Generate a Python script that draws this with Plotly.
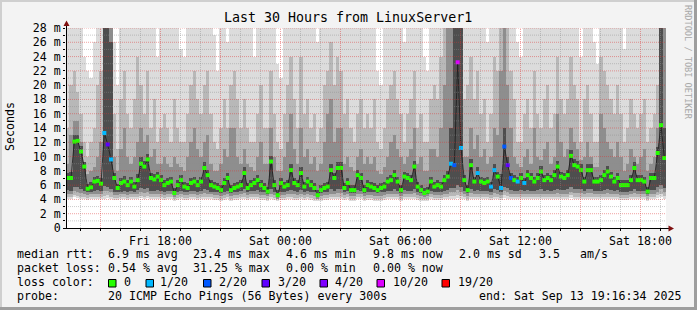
import plotly.graph_objects as go
from datetime import datetime, timedelta

# ---------------- data ----------------
START = datetime(2025, 9, 12, 13, 16, 34)
END = datetime(2025, 9, 13, 19, 16, 34)
STEP_MIN = 10  # one value per 10 minutes

MEDIAN = [
    7.0, 7.0, 12.1, 12.2, 10.7, 8.6, 5.5, 5.7, 6.5, 6.6,
    6.2, 13.3, 11.7, 9.6, 7.0, 5.6, 6.3, 6.5, 6.0, 6.5,
    5.8, 6.7, 9.0, 8.6, 9.6, 7.0, 6.8, 7.2, 6.7, 6.0,
    6.3, 6.5, 4.9, 6.0, 6.7, 5.8, 5.6, 6.3, 6.5, 6.0,
    6.5, 8.4, 7.4, 6.0, 5.8, 5.6, 5.3, 6.3, 7.0, 5.3,
    5.6, 5.8, 6.0, 7.7, 5.6, 6.0, 6.3, 6.7, 6.0, 5.6,
    5.1, 9.3, 6.0, 4.6, 6.3, 5.8, 6.0, 8.1, 6.3, 6.0,
    7.7, 5.8, 6.5, 6.0, 5.6, 4.6, 5.3, 5.6, 5.8, 8.1,
    7.0, 8.4, 8.4, 5.6, 6.3, 5.3, 5.3, 7.4, 7.0, 5.3,
    6.0, 5.8, 5.6, 5.3, 5.6, 5.8, 6.5, 6.7, 7.4, 6.5,
    5.3, 7.2, 7.0, 6.7, 8.6, 5.8, 5.3, 4.9, 5.1, 6.5,
    5.8, 6.0, 5.8, 6.7, 7.2, 9.0, 8.8, 23.2, 11.2, 6.7,
    5.3, 8.8, 6.5, 7.7, 6.5, 6.3, 6.5, 5.8, 8.1, 7.2,
    5.6, 11.4, 8.8, 7.0, 6.7, 6.5, 7.0, 6.3, 7.4, 7.0,
    6.5, 7.0, 7.9, 6.7, 7.0, 6.7, 7.4, 8.6, 7.2, 7.0,
    7.4, 10.1, 8.8, 8.6, 8.1, 6.5, 8.1, 8.1, 6.5, 6.5,
    6.7, 7.4, 7.9, 7.2, 6.5, 7.0, 6.0, 6.0, 6.0, 6.7,
    8.4, 6.7, 6.7, 6.5, 5.1, 7.0, 7.0, 10.5, 14.4, 9.8,
]

# lost pings (out of 20) for each median value
LOSS = [
    0, 0, 0, 0, 0, 0, 0, 0, 0, 0,
    0, 1, 3, 1, 0, 0, 0, 0, 0, 0,
    0, 0, 0, 0, 0, 0, 0, 0, 0, 0,
    0, 0, 0, 0, 0, 0, 0, 0, 0, 0,
    0, 0, 0, 0, 0, 0, 0, 0, 0, 0,
    0, 0, 0, 0, 0, 0, 0, 0, 0, 0,
    0, 0, 0, 0, 0, 0, 0, 0, 0, 0,
    0, 0, 0, 0, 0, 0, 0, 0, 0, 0,
    0, 0, 0, 0, 0, 0, 0, 0, 0, 0,
    0, 0, 0, 0, 0, 0, 0, 0, 0, 0,
    0, 0, 0, 0, 0, 0, 0, 0, 0, 0,
    0, 0, 0, 0, 0, 1, 2, 10, 1, 0,
    0, 0, 0, 1, 0, 0, 0, 1, 1, 0,
    1, 2, 3, 2, 0, 1, 0, 1, 0, 0,
    0, 0, 0, 0, 0, 0, 0, 0, 0, 0,
    0, 0, 0, 0, 0, 0, 0, 0, 0, 0,
    0, 0, 0, 0, 0, 0, 0, 0, 0, 0,
    0, 0, 0, 0, 0, 0, 0, 0, 0, 0,
]

# smoke: sorted-ping band edges (outer pair -> inner pair), in ms
SMOKE_LO1 = [
    4.1, 4.0, 4.3, 4.2, 4.1, 4.0, 3.9, 4.0, 4.0, 4.1,
    4.0, 4.1, 4.2, 4.0, 3.9, 3.9, 4.0, 4.0, 3.9, 4.0,
    4.0, 4.1, 4.2, 4.1, 4.2, 4.0, 4.0, 4.1, 4.0, 3.9,
    4.0, 4.0, 3.8, 3.9, 4.0, 3.9, 3.9, 4.0, 4.0, 3.9,
    4.0, 4.1, 4.1, 4.0, 3.9, 3.9, 3.8, 3.9, 4.0, 3.8,
    3.9, 3.9, 4.0, 4.1, 3.9, 4.0, 4.0, 4.0, 3.9, 3.9,
    3.8, 4.0, 3.9, 3.8, 3.9, 3.9, 4.0, 4.0, 3.9, 3.9,
    4.0, 3.9, 4.0, 3.9, 3.8, 3.8, 3.8, 3.9, 3.9, 4.0,
    4.0, 4.1, 4.1, 3.9, 4.0, 3.8, 3.8, 4.0, 4.0, 3.8,
    3.9, 3.9, 3.8, 3.8, 3.8, 3.9, 4.0, 4.0, 4.1, 4.0,
    3.8, 4.0, 4.0, 4.0, 4.1, 3.9, 3.8, 3.8, 3.8, 4.0,
    3.9, 3.9, 3.9, 4.0, 4.0, 4.1, 4.1, 4.2, 4.1, 4.0,
    3.8, 4.1, 4.0, 4.0, 4.0, 4.0, 4.0, 3.9, 4.1, 4.0,
    3.9, 4.2, 4.1, 4.0, 4.0, 4.0, 4.0, 4.0, 4.0, 4.0,
    4.0, 4.0, 4.1, 4.0, 4.0, 4.0, 4.0, 4.1, 4.0, 4.0,
    4.0, 4.2, 4.1, 4.1, 4.1, 4.0, 4.1, 4.1, 4.0, 4.0,
    4.0, 4.0, 4.1, 4.0, 4.0, 4.0, 3.9, 3.9, 3.9, 4.0,
    4.1, 4.0, 4.0, 4.0, 3.8, 4.0, 4.0, 4.2, 4.3, 4.1,
]
SMOKE_HI1 = [
    30, 30, 30, 30, 30, 24, 22, 21, 26, 30,
    30, 30, 30, 30, 26, 20, 30, 30, 30, 28,
    30, 30, 30, 30, 30, 30, 30, 24, 30, 30,
    30, 30, 30, 30, 25, 24, 30, 30, 30, 30,
    30, 30, 30, 30, 27, 22, 30, 30, 26, 30,
    30, 30, 30, 30, 30, 30, 24, 30, 30, 30,
    30, 30, 30, 23, 21, 30, 30, 30, 30, 30,
    30, 30, 30, 30, 30, 26, 30, 30, 30, 30,
    30, 30, 30, 30, 30, 30, 30, 28, 30, 30,
    30, 30, 30, 22, 20, 30, 30, 30, 30, 30,
    30, 26, 30, 30, 30, 30, 30, 24, 22, 30,
    30, 30, 30, 30, 30, 30, 30, 30, 30, 30,
    30, 30, 30, 30, 30, 30, 26, 30, 30, 30,
    30, 30, 30, 30, 30, 26, 24, 30, 30, 30,
    30, 30, 30, 30, 30, 28, 30, 30, 30, 30,
    30, 30, 30, 30, 24, 30, 30, 30, 26, 23,
    30, 30, 30, 30, 30, 30, 30, 25, 30, 30,
    30, 30, 30, 30, 30, 30, 30, 30, 30, 30,
]
SMOKE_LO2 = [
    4.4, 4.3, 4.6, 4.5, 4.4, 4.3, 4.2, 4.3, 4.3, 4.4,
    4.3, 4.5, 4.6, 4.4, 4.2, 4.2, 4.3, 4.3, 4.2, 4.3,
    4.3, 4.4, 4.5, 4.4, 4.5, 4.3, 4.3, 4.4, 4.3, 4.2,
    4.3, 4.3, 4.1, 4.2, 4.3, 4.2, 4.2, 4.3, 4.3, 4.2,
    4.3, 4.4, 4.4, 4.3, 4.2, 4.2, 4.1, 4.2, 4.3, 4.1,
    4.2, 4.2, 4.3, 4.4, 4.2, 4.3, 4.3, 4.3, 4.2, 4.2,
    4.1, 4.3, 4.2, 4.0, 4.2, 4.2, 4.3, 4.3, 4.2, 4.2,
    4.3, 4.2, 4.3, 4.2, 4.1, 4.0, 4.1, 4.2, 4.2, 4.3,
    4.3, 4.4, 4.4, 4.2, 4.3, 4.1, 4.1, 4.3, 4.3, 4.1,
    4.2, 4.2, 4.1, 4.1, 4.1, 4.2, 4.3, 4.3, 4.4, 4.3,
    4.1, 4.3, 4.3, 4.3, 4.4, 4.2, 4.1, 4.1, 4.1, 4.3,
    4.2, 4.2, 4.2, 4.3, 4.4, 4.5, 4.5, 4.6, 4.5, 4.3,
    4.1, 4.4, 4.3, 4.3, 4.3, 4.3, 4.3, 4.2, 4.4, 4.3,
    4.2, 4.6, 4.5, 4.3, 4.3, 4.3, 4.3, 4.3, 4.3, 4.3,
    4.3, 4.3, 4.4, 4.3, 4.3, 4.3, 4.3, 4.4, 4.3, 4.3,
    4.3, 4.6, 4.4, 4.4, 4.4, 4.3, 4.4, 4.4, 4.3, 4.3,
    4.3, 4.3, 4.4, 4.3, 4.3, 4.3, 4.2, 4.2, 4.2, 4.3,
    4.4, 4.3, 4.3, 4.3, 4.1, 4.3, 4.3, 4.6, 4.8, 4.5,
]
SMOKE_HI2 = [
    14, 20, 22, 19, 16, 12, 10, 12, 14, 20,
    22, 30, 30, 30, 16, 11, 18, 22, 16, 14,
    18, 24, 20, 16, 22, 14, 18, 12, 14, 16,
    14, 12, 18, 14, 12, 12, 16, 20, 22, 18,
    16, 20, 22, 16, 12, 11, 14, 18, 14, 20,
    22, 18, 14, 18, 14, 12, 12, 16, 20, 14,
    14, 22, 16, 12, 11, 16, 20, 24, 18, 14,
    24, 16, 18, 14, 16, 12, 14, 20, 22, 26,
    20, 24, 22, 16, 18, 14, 12, 16, 18, 14,
    16, 14, 18, 12, 11, 14, 18, 20, 22, 18,
    16, 12, 16, 18, 22, 14, 16, 12, 12, 18,
    20, 18, 24, 30, 30, 30, 30, 30, 30, 18,
    20, 24, 18, 22, 16, 18, 12, 16, 24, 22,
    30, 30, 28, 22, 18, 12, 12, 16, 18, 14,
    22, 16, 14, 18, 20, 14, 16, 24, 18, 16,
    18, 24, 20, 18, 12, 18, 20, 16, 12, 12,
    24, 22, 20, 18, 16, 20, 16, 12, 14, 18,
    16, 14, 16, 18, 12, 14, 16, 20, 30, 30,
]
SMOKE_LO3 = [
    4.8, 4.7, 5.2, 5.1, 4.9, 4.7, 4.6, 4.7, 4.7, 4.8,
    4.7, 5.2, 5.2, 5.0, 4.6, 4.6, 4.7, 4.7, 4.6, 4.7,
    4.7, 4.8, 5.0, 4.9, 5.0, 4.7, 4.7, 4.8, 4.7, 4.6,
    4.7, 4.7, 4.4, 4.6, 4.7, 4.6, 4.6, 4.7, 4.7, 4.6,
    4.7, 4.9, 4.8, 4.7, 4.6, 4.6, 4.5, 4.6, 4.7, 4.5,
    4.6, 4.6, 4.7, 4.9, 4.6, 4.7, 4.7, 4.8, 4.6, 4.6,
    4.5, 4.8, 4.6, 4.1, 4.6, 4.6, 4.7, 4.8, 4.7, 4.6,
    4.8, 4.6, 4.7, 4.6, 4.5, 4.1, 4.5, 4.6, 4.6, 4.8,
    4.7, 4.9, 4.9, 4.6, 4.7, 4.5, 4.5, 4.8, 4.7, 4.5,
    4.6, 4.6, 4.5, 4.5, 4.5, 4.6, 4.7, 4.7, 4.8, 4.7,
    4.5, 4.8, 4.7, 4.7, 4.9, 4.6, 4.5, 4.4, 4.5, 4.7,
    4.6, 4.6, 4.6, 4.7, 4.8, 5.0, 5.0, 5.3, 5.1, 4.7,
    4.5, 4.9, 4.7, 4.8, 4.7, 4.7, 4.7, 4.6, 4.9, 4.8,
    4.6, 5.2, 5.0, 4.8, 4.7, 4.7, 4.7, 4.7, 4.8, 4.7,
    4.7, 4.8, 4.8, 4.7, 4.8, 4.7, 4.8, 4.9, 4.8, 4.8,
    4.8, 5.1, 4.9, 4.9, 4.9, 4.7, 4.9, 4.9, 4.7, 4.7,
    4.7, 4.8, 4.9, 4.8, 4.7, 4.8, 4.6, 4.6, 4.6, 4.7,
    4.9, 4.7, 4.7, 4.7, 4.5, 4.8, 4.8, 5.1, 5.4, 5.0,
]
SMOKE_HI3 = [
    9, 13, 15, 15, 12, 9, 7.5, 8, 8.5, 10,
    12, 30, 30, 30, 10, 8, 11, 14, 10, 9,
    10, 12, 14, 12, 13, 10, 11, 9, 9, 10,
    9, 8.5, 10, 9, 8.5, 8, 10, 12, 14, 11,
    10, 12, 13, 9, 8, 8, 9, 11, 10, 14,
    14, 10, 9, 11, 9, 8.5, 8, 10, 12, 9,
    9, 14, 10, 8, 8, 10, 12, 16, 11, 9,
    14, 10, 11, 9, 10, 8, 9, 12, 16, 18,
    12, 14, 14, 9, 10, 8.5, 8, 10, 11, 9,
    10, 9, 10, 8, 7.5, 8.5, 10, 12, 13, 11,
    10, 9, 10, 11, 14, 9, 10, 8, 8, 11,
    11, 10, 14, 20, 28, 30, 30, 30, 30, 10,
    10, 14, 11, 13, 10, 11, 9, 10, 14, 13,
    22, 28, 20, 14, 10, 9, 8.5, 10, 11, 9,
    14, 10, 9.5, 11, 12, 9, 10, 16, 12, 10,
    11, 14, 12, 11, 9.5, 10, 12, 10, 8.5, 8.5,
    16, 14, 12, 11, 10, 12, 10, 8, 9, 11,
    10, 9, 10, 11, 8, 9, 10, 14, 30, 30,
]
SMOKE_LO4 = [
    5.3, 5.2, 5.8, 5.7, 5.5, 5.2, 5.0, 5.1, 5.2, 5.3,
    5.2, 5.9, 5.8, 5.5, 5.1, 5.0, 5.1, 5.2, 5.1, 5.2,
    5.1, 5.3, 5.6, 5.5, 5.6, 5.2, 5.2, 5.3, 5.2, 5.1,
    5.2, 5.2, 4.6, 5.1, 5.2, 5.1, 5.0, 5.2, 5.2, 5.1,
    5.2, 5.4, 5.3, 5.1, 5.1, 5.0, 4.9, 5.1, 5.2, 4.9,
    5.0, 5.1, 5.2, 5.4, 5.0, 5.2, 5.2, 5.3, 5.1, 5.0,
    4.8, 5.4, 5.1, 4.3, 5.1, 5.1, 5.2, 5.3, 5.2, 5.1,
    5.3, 5.1, 5.2, 5.1, 5.0, 4.3, 4.9, 5.0, 5.1, 5.4,
    5.2, 5.4, 5.4, 5.0, 5.2, 4.9, 4.9, 5.3, 5.2, 4.9,
    5.1, 5.1, 5.0, 4.9, 5.0, 5.1, 5.2, 5.2, 5.4, 5.2,
    4.9, 5.3, 5.2, 5.2, 5.4, 5.1, 4.9, 4.6, 4.8, 5.2,
    5.1, 5.1, 5.1, 5.2, 5.3, 5.6, 5.6, 6.0, 5.8, 5.2,
    4.9, 5.5, 5.2, 5.3, 5.2, 5.2, 5.2, 5.1, 5.4, 5.3,
    5.0, 5.8, 5.6, 5.3, 5.2, 5.2, 5.3, 5.2, 5.3, 5.2,
    5.2, 5.3, 5.4, 5.2, 5.3, 5.2, 5.3, 5.5, 5.3, 5.3,
    5.4, 5.7, 5.5, 5.5, 5.4, 5.2, 5.4, 5.4, 5.2, 5.2,
    5.2, 5.3, 5.4, 5.3, 5.2, 5.3, 5.1, 5.1, 5.1, 5.2,
    5.5, 5.2, 5.2, 5.2, 4.8, 5.3, 5.3, 5.7, 6.0, 5.6,
]
SMOKE_HI4 = [
    7.7, 7.9, 13.0, 13.0, 11.5, 9.3, 6.2, 6.4, 7.2, 7.3,
    7.0, 30, 30, 26, 7.7, 6.2, 7.0, 7.3, 6.7, 7.2,
    6.5, 7.5, 9.9, 9.4, 10.4, 7.7, 7.5, 7.9, 7.4, 6.7,
    7.0, 7.2, 5.6, 6.7, 7.4, 6.5, 6.3, 7.0, 7.2, 6.7,
    7.2, 9.2, 8.1, 6.7, 6.5, 6.3, 6.0, 7.0, 7.7, 6.0,
    6.3, 6.5, 6.7, 8.5, 6.3, 6.7, 7.0, 7.4, 6.7, 6.3,
    5.8, 10.1, 6.7, 5.3, 7.0, 6.5, 6.7, 8.9, 7.0, 6.7,
    8.5, 6.5, 7.2, 6.7, 6.3, 5.3, 6.0, 6.3, 6.5, 8.9,
    7.7, 9.2, 9.2, 6.3, 7.0, 6.0, 6.0, 8.1, 7.7, 6.0,
    6.7, 6.5, 6.3, 6.0, 6.3, 6.5, 7.2, 7.4, 8.1, 7.2,
    6.0, 7.9, 7.7, 7.4, 9.4, 6.5, 6.0, 5.6, 5.8, 7.2,
    6.5, 6.7, 6.5, 7.4, 8.0, 14.0, 30, 30, 30, 7.4,
    6.0, 9.6, 7.2, 8.5, 7.2, 7.0, 7.2, 6.5, 8.9, 7.9,
    7.5, 14.0, 10.0, 7.7, 7.4, 7.2, 7.7, 7.0, 8.1, 7.7,
    7.2, 7.7, 8.7, 7.4, 7.7, 7.4, 8.1, 9.4, 7.9, 7.7,
    8.1, 10.9, 9.6, 9.4, 8.9, 7.2, 8.9, 8.9, 7.2, 7.2,
    7.4, 8.1, 8.7, 7.9, 7.2, 7.7, 6.7, 6.7, 6.7, 7.4,
    9.2, 7.4, 7.4, 7.2, 5.8, 7.7, 7.7, 11.3, 30, 14.0,
]

SMOKE_GRAYS = ["#dcdcdc", "#b8b8b8", "#8e8e8e", "#4e4e4e"]
LOSS_COLORS = {0: "#26ff00", 1: "#00b8ff", 2: "#0059ff", 3: "#5e00ff",
               4: "#7e00ff", 10: "#dd00ff", 19: "#ff0000"}
LEGEND_LOSS = [0, 1, 2, 3, 4, 10, 19]
LEGEND_LOSS_TEXT = ["0", "1/20", "2/20", "3/20", "4/20", "10/20", "19/20"]

TITLE = "Last 30 Hours from LinuxServer1"
STATS_RTT = ["median rtt:", "6.9 ms avg", "23.4 ms max", "4.6 ms min",
             "9.8 ms now", "2.0 ms sd", "3.5", "am/s"]
STATS_LOSS = ["packet loss:", "0.54 % avg", "31.25 % max", "0.00 % min", "0.00 % now"]
PROBE = ["probe:", "20 ICMP Echo Pings (56 Bytes) every 300s",
         "end: Sat Sep 13 19:16:34 2025"]

# ---------------- geometry helpers (pixel -> paper) ----------------
W, H = 697, 310
ML, MR, MT, MB = 66, 31, 28, 82
PW, PH = W - ML - MR, H - MT - MB


def fx(px):
    return (px - ML) / PW


def fy(py):
    return (MT + PH - py) / PH


MONO = "DejaVu Sans Mono"
FS = 11.6

n = len(MEDIAN)
step = timedelta(minutes=STEP_MIN)
t_mid = [START + step * k + step / 2 for k in range(n)]

fig = go.Figure()

lows = [SMOKE_LO1, SMOKE_LO2, SMOKE_LO3, SMOKE_LO4]
highs = [SMOKE_HI1, SMOKE_HI2, SMOKE_HI3, SMOKE_HI4]
for lo, hi, col in zip(lows, highs, SMOKE_GRAYS):
    fig.add_trace(go.Bar(
        x=t_mid, y=[h - l for l, h in zip(lo, hi)], base=lo,
        width=STEP_MIN * 60000 * 1.08,
        marker=dict(color=col, line=dict(width=0)),
        hoverinfo="skip"))

fig.add_trace(go.Scatter(x=t_mid, y=MEDIAN, mode="lines",
                         line=dict(color="#1a1a1a", width=0.8), hoverinfo="skip"))
fig.add_trace(go.Scatter(x=t_mid, y=MEDIAN, mode="markers",
                         marker=dict(symbol="square", size=4,
                                     color=[LOSS_COLORS[v] for v in LOSS],
                                     line=dict(width=0)),
                         hoverinfo="skip"))

# ---------------- axes ----------------
first_hour = START.replace(minute=0, second=0) + timedelta(hours=1)
hours = []
t = first_hour
while t <= END:
    hours.append(t)
    t += timedelta(hours=1)
hour_text = []
for h in hours:
    if h.hour % 6 == 0:
        hour_text.append(h.strftime("%a %H:%M"))
    else:
        hour_text.append("")

yvals = list(range(0, 29))
ytext = ["0" if v == 0 else (f"{v} m" if v % 2 == 0 else "") for v in yvals]

fig.update_layout(
    width=W, height=H,
    margin=dict(l=ML, r=MR, t=MT, b=MB),
    paper_bgcolor="#f3f3f3", plot_bgcolor="#ffffff",
    barmode="overlay", bargap=0, showlegend=False,
    font=dict(family=MONO, size=FS, color="#000000"),
    xaxis=dict(type="date", range=[START, END], showgrid=False, zeroline=False,
               showline=False, tickmode="array", tickvals=hours, ticktext=hour_text,
               ticks="outside", ticklen=2, tickcolor="#000000",
               tickfont=dict(family=MONO, size=FS)),
    yaxis=dict(range=[0, 28], showgrid=False, zeroline=False, showline=False,
               tickmode="array", tickvals=yvals, ticktext=ytext,
               ticks="outside", ticklen=2, tickcolor="#000000",
               tickfont=dict(family=MONO, size=FS)),
)

shapes = []
MINOR = "rgba(140,140,140,0.45)"
MAJOR = "rgba(222,48,48,0.45)"
for v in yvals[1:]:
    shapes.append(dict(type="line", xref="paper", yref="y", x0=0, x1=1, y0=v, y1=v,
                       line=dict(color=MAJOR if v % 2 == 0 else MINOR, width=1,
                                 dash="1px,1px"), layer="above"))
for h in hours:
    shapes.append(dict(type="line", xref="x", yref="paper", x0=h, x1=h, y0=0, y1=1,
                       line=dict(color=MAJOR if h.hour % 3 == 0 else MINOR, width=1,
                                 dash="1px,1px"), layer="above"))

# axis lines and arrows
shapes.append(dict(type="line", xref="paper", yref="paper", x0=fx(66.5), x1=fx(66.5),
                   y0=fy(228), y1=fy(23), line=dict(color="#000000", width=1), layer="above"))
shapes.append(dict(type="line", xref="paper", yref="paper", x0=fx(63), x1=fx(669),
                   y0=fy(228.5), y1=fy(228.5), line=dict(color="#000000", width=1), layer="above"))


def ppath(points):
    return "M " + " L ".join(f"{fx(a)},{fy(b)}" for a, b in points) + " Z"


ARROW = "#7f1010"
shapes.append(dict(type="path", xref="paper", yref="paper",
                   path=ppath([(66.5, 20.5), (63.5, 26), (69.5, 26)]),
                   fillcolor=ARROW, line=dict(width=0), layer="above"))
shapes.append(dict(type="path", xref="paper", yref="paper",
                   path=ppath([(674, 228.5), (668.5, 225.5), (668.5, 231.5)]),
                   fillcolor=ARROW, line=dict(width=0), layer="above"))

# 3D frame of the image
shapes.append(dict(type="rect", xref="paper", yref="paper", x0=fx(0), x1=fx(W), y0=fy(0), y1=fy(2),
                   fillcolor="#cfcfcf", line=dict(width=0), layer="above"))
shapes.append(dict(type="rect", xref="paper", yref="paper", x0=fx(0), x1=fx(2), y0=fy(0), y1=fy(H),
                   fillcolor="#cfcfcf", line=dict(width=0), layer="above"))
shapes.append(dict(type="rect", xref="paper", yref="paper", x0=fx(0), x1=fx(W), y0=fy(H - 3), y1=fy(H),
                   fillcolor="#9e9e9e", line=dict(width=0), layer="above"))
shapes.append(dict(type="rect", xref="paper", yref="paper", x0=fx(W - 3), x1=fx(W), y0=fy(0), y1=fy(H),
                   fillcolor="#9e9e9e", line=dict(width=0), layer="above"))

# legend colour boxes
box_x = [108.5, 146, 203.5, 262, 320, 377, 442]
text_x = [122.5, 159, 218, 276.5, 334, 392, 457]
for bx, lv in zip(box_x, LEGEND_LOSS):
    shapes.append(dict(type="rect", xref="paper", yref="paper",
                       x0=fx(bx), x1=fx(bx + 7.5), y0=fy(279.5), y1=fy(287),
                       fillcolor=LOSS_COLORS[lv], line=dict(color="#000000", width=1),
                       layer="above"))
fig.update_layout(shapes=shapes)

ann = []


def txt(s, x, y, size=FS, color="#000000", anchor="left", angle=0):
    ann.append(dict(text=s, x=fx(x), y=fy(y), xref="paper", yref="paper",
                    xanchor=anchor, yanchor="middle", showarrow=False,
                    textangle=angle, borderpad=0,
                    font=dict(family=MONO, size=size, color=color)))


txt(TITLE, 347.5, 18, size=13.3, anchor="center")
txt("Seconds", 10, 127, anchor="center", angle=-90)
txt("RRDTOOL / TOBI OETIKER", 688, 62, size=8.6, color="#a8a8a8", anchor="center", angle=90)

row1_x = [16, 106.5, 192, 285, 371.5, 457.5, 537.5, 578.5]
for s, x in zip(STATS_RTT, row1_x):
    txt(s, x, 254)
row2_x = [16, 106.5, 192, 285, 371.5]
for s, x in zip(STATS_LOSS, row2_x):
    txt(s, x, 268)
txt("loss color:", 16, 282)
for s, x in zip(LEGEND_LOSS_TEXT, text_x):
    txt(s, x, 282)
for s, x in zip(PROBE, [16, 106.5, 477.5]):
    txt(s, x, 296)

fig.update_layout(annotations=ann)
fig.write_html("out.html")
